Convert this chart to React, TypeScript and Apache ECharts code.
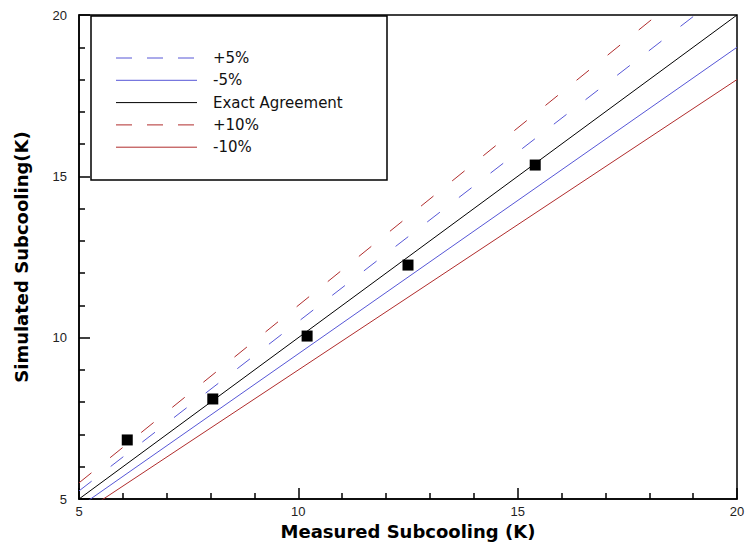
import React, { useEffect, useRef } from "react";
import * as echarts from "echarts";

// Measured vs simulated subcooling (K)
const measured = [6.1, 8.05, 10.2, 12.5, 15.4];
const simulated = [6.83, 8.1, 10.05, 12.25, 15.35];

// Reference lines: endpoints at measured = 5 K and 20 K
const linePlus5 = [[5, 5.25], [20, 21]];
const lineMinus5 = [[5, 4.75], [20, 19]];
const lineExact = [[5, 5], [20, 20]];
const linePlus10 = [[5, 5.5], [20, 22]];
const lineMinus10 = [[5, 4.5], [20, 18]];

const legendNames = ["+5%", "-5%", "Exact Agreement", "+10%", "-10%"];
const xTitle = "Measured Subcooling (K)";
const yTitle = "Simulated Subcooling(K)";

const FONT = "'Liberation Sans', Arial, sans-serif";
const TITLE_FONT = "'DejaVu Sans', sans-serif";
const BLUE = "#5656d6";
const RED = "#b02c2c";
const PLOT_DASH = [16, 24];
const LEGEND_DASH = [16, 15];

const lineDefs = [
  { name: legendNames[0], data: linePlus5, color: BLUE, dashed: true },
  { name: legendNames[1], data: lineMinus5, color: BLUE, dashed: false },
  { name: legendNames[2], data: lineExact, color: "#000", dashed: false },
  { name: legendNames[3], data: linePlus10, color: RED, dashed: true },
  { name: legendNames[4], data: lineMinus10, color: RED, dashed: false },
];

export default function App() {
  const ref = useRef<HTMLDivElement>(null);

  useEffect(() => {
    if (!ref.current) return;
    const chart = echarts.init(ref.current, null, { renderer: "svg" });

    // Negative lengths point the ticks into the plot area
    const axisCommon = {
      type: "value",
      min: 5,
      max: 20,
      interval: 5,
      axisLine: { show: true, lineStyle: { color: "#000", width: 1.5 } },
      axisTick: { show: true, inside: false, length: -11, lineStyle: { color: "#000", width: 1.5 } },
      minorTick: { show: true, splitNumber: 5, length: -6, lineStyle: { color: "#000", width: 1.5 } },
      splitLine: { show: false },
      nameLocation: "middle",
      nameTextStyle: { fontFamily: TITLE_FONT, fontWeight: "bold", fontSize: 18, color: "#000" },
    };

    // Legend drawn as a framed box of line samples and labels
    const legendX = 116;
    const legendY0 = 58;
    const legendStep = 22.3;
    const legendItems: any[] = [];
    lineDefs.forEach((d, i) => {
      const y = legendY0 + i * legendStep;
      legendItems.push({
        type: "line",
        shape: { x1: legendX, y1: y, x2: legendX + 81, y2: y },
        style: { stroke: d.color, lineWidth: 1, lineDash: d.dashed ? LEGEND_DASH : null },
        z: 6,
      });
      legendItems.push({
        type: "text",
        x: legendX + 97,
        y,
        style: {
          text: d.name,
          fontFamily: TITLE_FONT,
          fontSize: 15,
          fill: "#111",
          verticalAlign: "middle",
          align: "left",
        },
        z: 6,
      });
    });

    chart.setOption({
      animation: false,
      backgroundColor: "#fff",
      grid: {
        left: 79,
        right: 9,
        top: 15,
        bottom: 47,
        show: true,
        borderColor: "#000",
        borderWidth: 1.5,
        backgroundColor: "transparent",
        containLabel: false,
        outerBoundsMode: "none",
      },
      xAxis: {
        ...axisCommon,
        name: xTitle,
        nameGap: 22,
        axisLabel: { fontFamily: FONT, fontSize: 13, color: "#222", margin: 6 },
      },
      yAxis: {
        ...axisCommon,
        name: yTitle,
        nameGap: 49,
        axisLabel: { fontFamily: FONT, fontSize: 13, color: "#222", margin: 12 },
      },
      graphic: [
        {
          type: "rect",
          shape: { x: 91, y: 16, width: 296, height: 164 },
          style: { fill: "#fff", stroke: "#000", lineWidth: 1.5 },
          z: 5,
        },
        ...legendItems,
      ],
      series: [
        ...lineDefs.map((d) => ({
          name: d.name,
          type: "line",
          data: d.data,
          symbol: "none",
          clip: true,
          lineStyle: { color: d.color, width: 1, type: d.dashed ? PLOT_DASH : "solid" },
          z: 2,
        })),
        {
          name: "data",
          type: "scatter",
          data: measured.map((m, i) => [m, simulated[i]]),
          symbol: "rect",
          symbolSize: 11,
          itemStyle: { color: "#000", opacity: 1 },
          z: 3,
        },
      ],
    });

    return () => chart.dispose();
  }, []);

  return <div ref={ref} style={{ width: 746, height: 546, position: "absolute", left: 0, top: 0 }} />;
}
